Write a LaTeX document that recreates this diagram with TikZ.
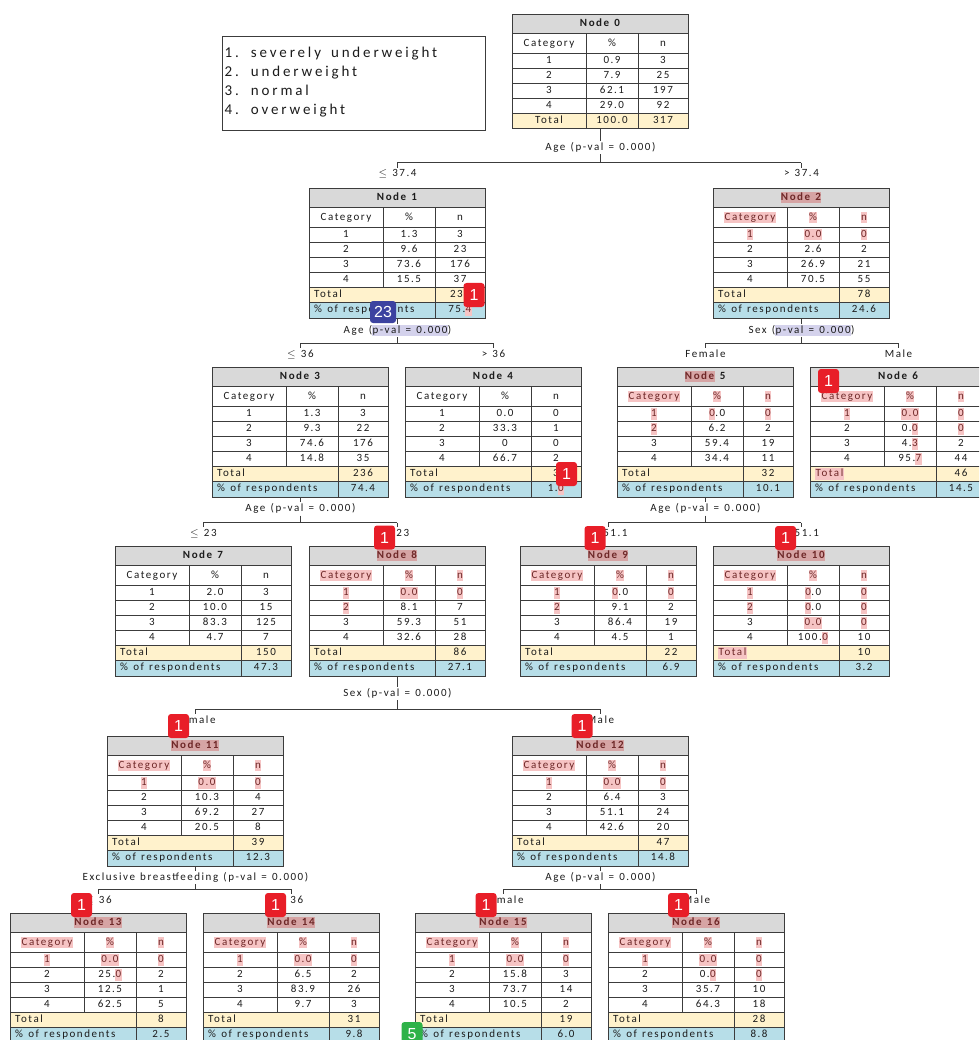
\documentclass[tikz,border=0pt]{standalone}
\usepackage{fontspec}
\setmainfont{Carlito}
\newfontfamily\tabfont{Carlito}[LetterSpace=14,WordSpace=1.3]
\newfontfamily\legfont{Carlito}[LetterSpace=19,WordSpace=1.6]
\newfontfamily\badgefont{Liberation Sans}
\definecolor{headfill}{RGB}{217,217,217}
\definecolor{totfill}{RGB}{255,242,204}
\definecolor{pctfill}{RGB}{183,222,232}
\definecolor{textgray}{RGB}{28,28,28}
\definecolor{linegray}{RGB}{60,60,60}
\definecolor{hlpink}{RGB}{246,196,196}
\definecolor{hlrose}{RGB}{214,164,164}
\definecolor{hltext}{RGB}{110,40,40}
\definecolor{hllav}{RGB}{212,210,236}
\definecolor{badgered}{RGB}{232,30,40}
\definecolor{badgeblue}{RGB}{60,66,160}
\definecolor{badgegreen}{RGB}{46,178,72}
\newcommand\hl[1]{{\setlength\fboxsep{0.4pt}\colorbox{hlpink}{\rule[-2.5pt]{0pt}{10.5pt}\textcolor{hltext}{#1}}}}
\newcommand\hlt[1]{{\setlength\fboxsep{0.4pt}\colorbox{hlrose}{\rule[-2.7pt]{0pt}{10.9pt}\textcolor{hltext}{#1}}}}
\newcommand\hlv[1]{{\setlength\fboxsep{0.4pt}\colorbox{hllav}{\rule[-2.5pt]{0pt}{10.5pt}#1}}}
\newcommand\cattable[8]{%
\begin{scope}[shift={(#2,#3)}]
\fill[headfill] (0,0) rectangle (176,19.5);
\fill[totfill] (0,99.5) rectangle (176,114.5);
\draw[gridline] (0,19.5) -- (176,19.5) (0,39.5) -- (176,39.5) (0,54.5) -- (176,54.5) (0,69.5) -- (176,69.5) (0,84.5) -- (176,84.5) (0,99.5) -- (176,99.5) (74,19.5) -- (74,99.5);
\node[tabtitle] (#1title) at (88,9.75) {#4};
\foreach \c/\p/\n in {#5} {\node[cell] at (37,29.5) {\c}; \node[cell] at (100,29.5) {\p}; \node[cell] at (151,29.5) {\n};}
\foreach \c/\p/\n [count=\i] in {#6} {\node[cell] at (37,{32+15*\i}) {\c}; \node[cell] at (100,{32+15*\i}) {\p}; \node[cell] at (151,{32+15*\i}) {\n};}
\if\relax\detokenize{#8}\relax
 \draw[gridline] (74,99.5) -- (74,114.5) (126,19.5) -- (126,114.5);
 \foreach \c/\p/\n in {#7} {\node[cell] at (37,107) {\c}; \node[cell] at (100,107) {\p}; \node[cell] at (151,107) {\n};}
 \node[tabframe,minimum height=114.5] (#1) at (0,0) {};
\else
 \fill[pctfill] (0,114.5) rectangle (176,129.5);
 \draw[gridline] (0,114.5) -- (176,114.5) (126,19.5) -- (126,129.5);
 \foreach \t/\m in {#7} {\node[cell,anchor=west] at (5,107) {\t}; \node[cell] at (151,107) {\m};}
 \node[cell,anchor=west] at (5,122) {\% of respondents}; \node[cell] at (151,122) {#8};
 \node[tabframe,minimum height=129.5] (#1) at (0,0) {};
\fi
\end{scope}}
\newcommand\branch[8]{%
\node[splitlab] (#1rule) at (#1.south |- 0,#3) {#2};
\coordinate (#1mid) at (#1.south |- 0,#4);
\coordinate (#1left) at (#5.north |- 0,#4);
\coordinate (#1right) at (#6.north |- 0,#4);
\node[branchlab] (#5cond) at ([yshift=-11.5pt]#1left) {#7};
\node[branchlab] (#6cond) at ([yshift=-11.5pt]#1right) {#8};
\draw[conn] (#1.south) -- (#1rule.north) (#1rule.south) -- (#1mid) (#1left) -- (#1right) (#1left) -- (#5cond.north) (#1right) -- (#6cond.north);}
\begin{document}
\begin{tikzpicture}[x=1pt,y=-1pt,cell/.style={font=\tabfont\fontsize{11}{13}\selectfont,text=textgray,inner sep=0,text height=7.5pt,text depth=2.3pt},tabtitle/.style={cell,font=\tabfont\bfseries\fontsize{11}{13}\selectfont},gridline/.style={draw=linegray,line width=0.7pt},tabframe/.style={draw=linegray,line width=0.9pt,anchor=north west,minimum width=176,inner sep=0},conn/.style={draw=linegray,line width=0.7pt},splitlab/.style={cell,inner sep=1.5pt},branchlab/.style={cell,inner sep=1.5pt},badge/.style={fill=badgered,rounded corners=3pt,minimum width=21,minimum height=24,inner sep=0,text=white,font=\badgefont\fontsize{16}{16}\selectfont},legendbox/.style={draw=linegray,line width=0.9pt,minimum width=263.5,minimum height=94,anchor=north west,inner sep=0},legendtext/.style={align=left,anchor=west,inner sep=0,font=\legfont\fontsize{15}{19}\selectfont,text=textgray}]
\useasboundingbox (0,0) rectangle (979,1040);
\clip (0,0) rectangle (979,1040);
\fill[white] (0,0) rectangle (979,1040);
\node[legendbox] (legend) at (221.5,36) {};
\node[legendtext] (legendlist) at ([xshift=3pt,yshift=1pt]legend.west) {1. severely underweight\\2. underweight\\3. normal\\4. overweight};
\cattable{node0}{512}{14}{Node 0}{Category/\%/n}{1/0.9/3,2/7.9/25,3/62.1/197,4/29.0/92}{Total/100.0/317}{}
\cattable{node1}{309}{188}{Node 1}{Category/\%/n}{1/1.3/3,2/9.6/23,3/73.6/176,4/15.5/37}{Total/239}{75.\hl{4}}
\cattable{node2}{713}{188}{\hlt{Node 2}}{\hl{Category}/\hl{\%}/\hl{n}}{\hl{1}/\hl{0.0}/\hl{0},2/2.6/2,3/26.9/21,4/70.5/55}{Total/78}{24.6}
\cattable{node3}{212}{367}{Node 3}{Category/\%/n}{1/1.3/3,2/9.3/22,3/74.6/176,4/14.8/35}{Total/236}{74.4}
\cattable{node4}{405}{367}{Node 4}{Category/\%/n}{1/0.0/0,2/33.3/1,3/0/0,4/66.7/2}{Total/3}{1.\hl{0}}
\cattable{node5}{617}{367}{\hlt{Node} 5}{\hl{Category}/\hl{\%}/\hl{n}}{\hl{1}/\hl{0}.0/\hl{0},\hl{2}/6.2/2,3/59.4/19,4/34.4/11}{Total/32}{10.1}
\cattable{node6}{810}{367}{Node 6}{\hl{Category}/\hl{\%}/\hl{n}}{\hl{1}/\hl{0.0}/\hl{0},2/0.\hl{0}/\hl{0},3/4.\hl{3}/2,4/95.\hl{7}/44}{\hl{Total}/46}{14.5}
\cattable{node7}{115}{546}{Node 7}{Category/\%/n}{1/2.0/3,2/10.0/15,3/83.3/125,4/4.7/7}{Total/150}{47.3}
\cattable{node8}{309}{546}{\hlt{Node 8}}{\hl{Category}/\hl{\%}/\hl{n}}{\hl{1}/\hl{0.0}/\hl{0},\hl{2}/8.1/7,3/59.3/51,4/32.6/28}{Total/86}{27.1}
\cattable{node9}{520}{546}{\hlt{Node 9}}{\hl{Category}/\hl{\%}/\hl{n}}{\hl{1}/\hl{0}.0/\hl{0},\hl{2}/9.1/2,3/86.4/19,4/4.5/1}{Total/22}{6.9}
\cattable{node10}{713}{546}{\hlt{Node 10}}{\hl{Category}/\hl{\%}/\hl{n}}{\hl{1}/\hl{0}.0/\hl{0},\hl{2}/\hl{0}.0/\hl{0},3/\hl{0.0}/\hl{0},4/100.\hl{0}/10}{\hl{Total}/10}{3.2}
\cattable{node11}{107}{736}{\hlt{Node 11}}{\hl{Category}/\hl{\%}/\hl{n}}{\hl{1}/\hl{0.0}/\hl{0},2/10.3/4,3/69.2/27,4/20.5/8}{Total/39}{12.3}
\cattable{node12}{512}{736}{\hlt{Node 12}}{\hl{Category}/\hl{\%}/\hl{n}}{\hl{1}/\hl{0.0}/\hl{0},2/6.4/3,3/51.1/24,4/42.6/20}{Total/47}{14.8}
\cattable{node13}{10}{913}{\hlt{Node 13}}{\hl{Category}/\hl{\%}/\hl{n}}{\hl{1}/\hl{0.0}/\hl{0},2/25.\hl{0}/2,3/12.5/1,4/62.5/5}{Total/8}{2.5}
\cattable{node14}{203}{913}{\hlt{Node 14}}{\hl{Category}/\hl{\%}/\hl{n}}{\hl{1}/\hl{0.0}/\hl{0},2/6.5/2,3/83.9/26,4/9.7/3}{Total/31}{9.8}
\cattable{node15}{415}{913}{\hlt{Node 15}}{\hl{Category}/\hl{\%}/\hl{n}}{\hl{1}/\hl{0.0}/\hl{0},2/15.8/3,3/73.7/14,4/10.5/2}{Total/19}{6.0}
\cattable{node16}{608}{913}{\hlt{Node 16}}{\hl{Category}/\hl{\%}/\hl{n}}{\hl{1}/\hl{0.0}/\hl{0},2/0.\hl{0}/\hl{0},3/35.7/10,4/64.3/18}{Total/28}{8.8}
\branch{node0}{Age (p-val = 0.000)}{147.5}{162.7}{node1}{node2}{$\le$ 37.4}{> 37.4}
\branch{node1}{Age (\hlv{p-val = 0.000})}{330.5}{343.3}{node3}{node4}{$\le$ 36}{> 36}
\branch{node2}{Sex (\hlv{p-val = 0.000})}{330.5}{343.3}{node5}{node6}{Female}{Male}
\branch{node3}{Age (p-val = 0.000)}{509}{522.5}{node7}{node8}{$\le$ 23}{> 23}
\branch{node5}{Age (p-val = 0.000)}{509}{522.5}{node9}{node10}{$\le$ 51.1}{> 51.1}
\branch{node8}{Sex (p-val = 0.000)}{693.5}{709}{node11}{node12}{Female}{Male}
\branch{node11}{Exclusive breastfeeding (p-val = 0.000)}{877.5}{889}{node13}{node14}{$\le$ 36}{> 36}
\branch{node12}{Age (p-val = 0.000)}{877.5}{889}{node15}{node16}{Female}{Male}
\node[badge] (mark1) at (474,295) {1};
\node[badge,fill=badgeblue,minimum width=26,minimum height=22] (mark23) at (383,312) {23};
\node[badge] (mark4) at (566.5,474) {1};
\node[badge] (mark6) at (828.5,381) {1};
\node[badge] (mark8) at (384.5,537.5) {1};
\node[badge] (mark9) at (595,538) {1};
\node[badge] (mark10) at (785.5,538) {1};
\node[badge] (mark11) at (178.5,726) {1};
\node[badge] (mark12) at (582,726) {1};
\node[badge] (mark13) at (81.5,905) {1};
\node[badge] (mark14) at (275.5,905) {1};
\node[badge] (mark15) at (486,905) {1};
\node[badge] (mark16) at (678.5,905) {1};
\node[badge,fill=badgegreen] (mark5) at (412,1034) {5};
\end{tikzpicture}
\end{document}
